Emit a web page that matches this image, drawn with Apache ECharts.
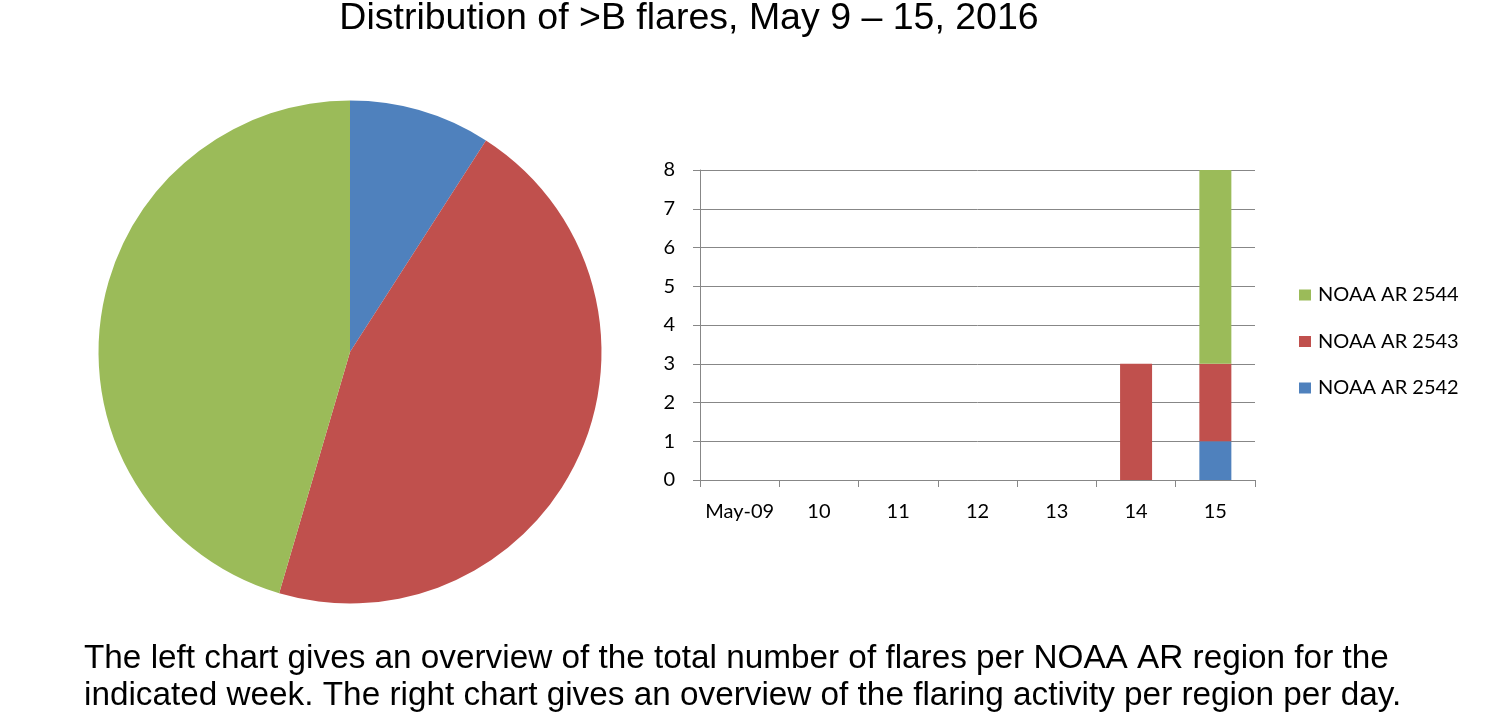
<!DOCTYPE html>
<html>
<head>
<meta charset="utf-8">
<script src="https://cdn.jsdelivr.net/npm/echarts@6/dist/echarts.min.js"></script>
<style>
html,body{margin:0;padding:0;background:#ffffff;}
#c{width:1492px;height:714px;}
</style>
</head>
<body>
<div id="c"></div>
<script>
// ---- data ----
const days = ['May-09', '10', '11', '12', '13', '14', '15'];
const regions = ['NOAA AR 2542', 'NOAA AR 2543', 'NOAA AR 2544'];
const ar2542 = [0, 0, 0, 0, 0, 0, 1];
const ar2543 = [0, 0, 0, 0, 0, 3, 2];
const ar2544 = [0, 0, 0, 0, 0, 0, 5];
const yMin = 0, yMax = 8, yStep = 1;
const titleText = 'Distribution of >B flares, May 9 \u2013 15, 2016';
const noteLines = [
  'The left chart gives an overview of the total number of flares per NOAA AR region for the',
  'indicated week. The right chart gives an overview of the flaring activity per region per day.'
];

// ---- build ----
const colors = ['#4F81BD', '#C0504D', '#9BBB59'];
const perRegion = [ar2542, ar2543, ar2544];
const sum = a => a.reduce((s, v) => s + v, 0);
const pieData = regions.map((r, i) => ({ name: r, value: sum(perRegion[i]), itemStyle: { color: colors[i] } }));

const labelFont = 'Lato, "Open Sans", sans-serif';
const axisGray = '#878787';

const barSeries = regions.map((r, i) => ({
  name: r,
  type: 'bar',
  stack: 'flares',
  barWidth: 32,
  data: perRegion[i],
  itemStyle: { color: colors[i] },
  emphasis: { disabled: true },
  silent: true
}));

const chart = echarts.init(document.getElementById('c'), null, { renderer: 'canvas' });
chart.setOption({
  animation: false,
  backgroundColor: '#ffffff',
  color: colors,
  grid: { left: 700, right: 237, top: 170, bottom: 234, containLabel: false, outerBoundsMode: 'none' },
  legend: {
    orient: 'vertical',
    left: 1299,
    top: 285,
    padding: 0,
    itemWidth: 12,
    itemHeight: 11,
    itemGap: 26.5,
    icon: 'rect',
    selectedMode: false,
    data: [regions[2], regions[1], regions[0]],
    textStyle: { fontFamily: labelFont, fontSize: 20, lineHeight: 20, color: '#000', padding: [0, 0, 0, 2] }
  },
  xAxis: {
    type: 'category',
    data: days,
    boundaryGap: true,
    axisLine: { show: true, lineStyle: { color: axisGray, width: 1 } },
    axisTick: { show: true, length: 7, lineStyle: { color: axisGray } },
    axisLabel: { margin: 22, fontFamily: labelFont, fontSize: 20, color: '#000', interval: 0 },
    splitLine: { show: false }
  },
  yAxis: {
    type: 'value',
    min: yMin,
    max: yMax,
    interval: yStep,
    axisLine: { show: true, lineStyle: { color: axisGray, width: 1 } },
    axisTick: { show: true, length: 7, lineStyle: { color: axisGray } },
    axisLabel: { margin: 25, fontFamily: labelFont, fontSize: 20, color: '#000' },
    splitLine: { show: true, lineStyle: { color: axisGray, width: 1 } }
  },
  series: barSeries.concat([{
    name: 'Totals',
    type: 'pie',
    center: [350, 352],
    radius: 251.5,
    startAngle: 90,
    clockwise: true,
    silent: true,
    label: { show: false },
    labelLine: { show: false },
    emphasis: { disabled: true },
    itemStyle: { borderWidth: 0 },
    data: pieData
  }]),
  graphic: [
    {
      type: 'text', x: 689, y: 19,
      style: { text: titleText, x: 0, y: 0, align: 'center', verticalAlign: 'middle',
               font: '37.5px "Liberation Sans", Arial, sans-serif', fill: '#000' },
      silent: true
    },
    {
      type: 'text', x: 84, y: 659,
      style: { text: noteLines[0], x: 0, y: 0, align: 'left', verticalAlign: 'middle',
               font: '33.3px "Liberation Sans", Arial, sans-serif', fill: '#000' },
      silent: true
    },
    {
      type: 'text', x: 84, y: 696,
      style: { text: noteLines[1], x: 0, y: 0, align: 'left', verticalAlign: 'middle',
               font: '33.3px "Liberation Sans", Arial, sans-serif', fill: '#000' },
      silent: true
    }
  ]
});
</script>
</body>
</html>
